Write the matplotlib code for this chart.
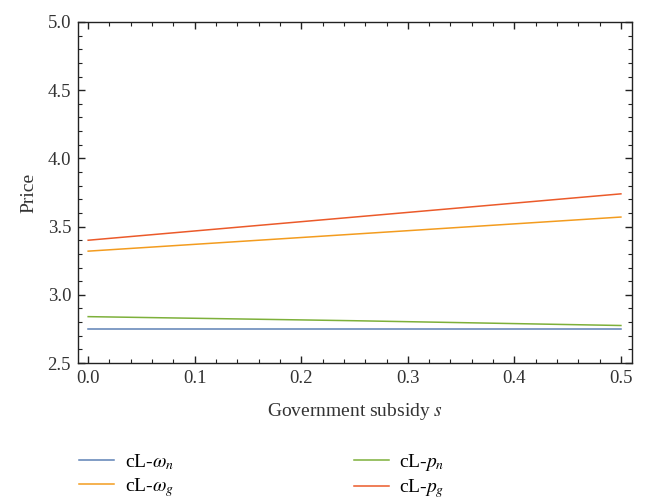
import matplotlib
matplotlib.use("Agg")
import matplotlib.pyplot as plt
from matplotlib.ticker import MultipleLocator

plt.rcParams["font.family"] = ["Liberation Serif", "DejaVu Serif"]
plt.rcParams["mathtext.fontset"] = "stix"

# Government subsidy levels and the resulting prices
subsidy = [0.0, 0.25, 0.5]
cl_omega_n = [2.75, 2.75, 2.75]
cl_omega_g = [3.32, 3.445, 3.57]
cl_p_n = [2.84, 2.81, 2.775]
cl_p_g = [3.40, 3.57, 3.74]

labels = [r"cL-$\omega_n$", r"cL-$\omega_g$", r"cL-$p_n$", r"cL-$p_g$"]
colors = ["#5E81B5", "#F39C1F", "#7DB03A", "#EB5A2A"]
series = [cl_omega_n, cl_omega_g, cl_p_n, cl_p_g]

fig = plt.figure(figsize=(6.45, 4.99), dpi=100)
ax = fig.add_axes([0.121, 0.2725, 0.859, 0.6835])

for vals, lab, col in zip(series, labels, colors):
    ax.plot(subsidy, vals, color=col, lw=1.1, label=lab)

ax.set_xlim(-0.0095, 0.5105)
ax.set_ylim(2.5, 5.0)
ax.xaxis.set_major_locator(MultipleLocator(0.1))
ax.xaxis.set_minor_locator(MultipleLocator(0.02))
ax.yaxis.set_major_locator(MultipleLocator(0.5))
ax.yaxis.set_minor_locator(MultipleLocator(0.1))
ax.tick_params(which="both", direction="in", top=True, right=True,
               labelsize=13.5, colors="#222222", labelcolor="#333333")
ax.tick_params(which="major", length=5, width=1, pad=5)
ax.tick_params(which="minor", length=3, width=0.8)
for sp in ax.spines.values():
    sp.set_color("#222222")
    sp.set_linewidth(1)

ax.set_xlabel(r"Government subsidy $s$", fontsize=14, color="#333333", labelpad=10)
ax.set_ylabel("Price", fontsize=14, color="#333333", labelpad=7)

fig.legend(loc="lower left", bbox_to_anchor=(0.12, -0.006), ncol=2,
           frameon=False, fontsize=14, handlelength=1.8, columnspacing=9.25,
           labelspacing=0.2, handletextpad=0.55, borderaxespad=0.0,
           borderpad=0.1)

fig.savefig("out.png", dpi=100)
